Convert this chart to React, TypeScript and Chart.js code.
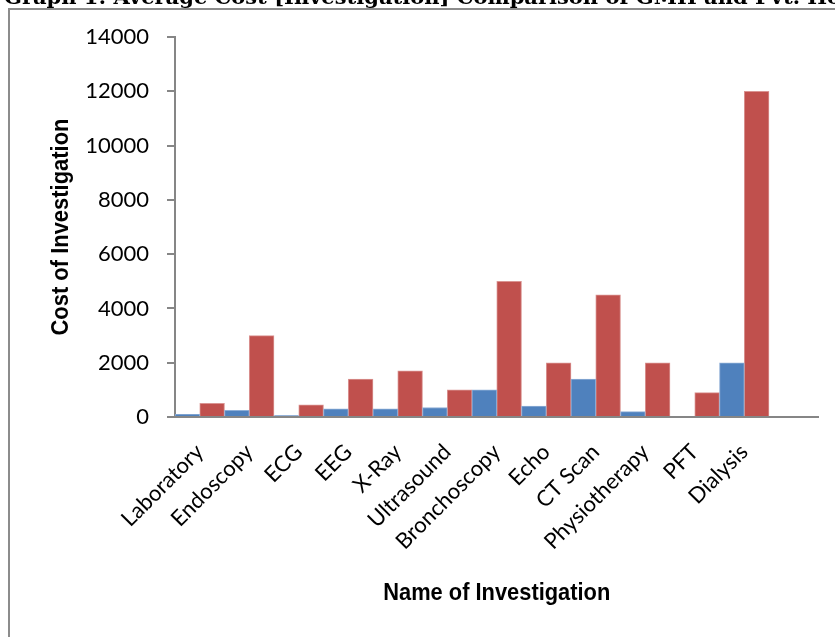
import React, { useEffect, useRef } from 'react';
import { Chart, registerables } from 'chart.js';

Chart.register(...registerables);

// ---- data ----
const categories = [
  'Laboratory', 'Endoscopy', 'ECG', 'EEG', 'X-Ray', 'Ultrasound',
  'Bronchoscopy', 'Echo', 'CT Scan', 'Physiotherapy', 'PFT', 'Dialysis',
];
const gmhCost = [100, 250, 50, 300, 300, 350, 1000, 400, 1400, 200, 0, 2000];
const pvtCost = [500, 3000, 450, 1400, 1700, 1000, 5000, 2000, 4500, 2000, 900, 12000];
// the source chart keeps one trailing empty category slot
const barSlots = [...categories, ''];
const yMin = 0;
const yMax = 14000;
const yStep = 2000;

const chartTitle = 'Graph 1: Average Cost [Investigation] Comparison of GMH and Pvt. Hospital';
const xTitle = 'Name of Investigation';
const yTitle = 'Cost of Investigation';

const W = 835;
const H = 637;

function drawCondensed(ctx: any, text: string, targetWidth: number) {
  const w = ctx.measureText(text).width;
  const k = Math.min(1, targetWidth / w);
  ctx.save();
  ctx.scale(k, 1);
  ctx.fillText(text, 0, 0);
  ctx.restore();
}

const decorPlugin = {
  id: 'decor',
  beforeDraw(chart: any) {
    const ctx = chart.ctx;
    ctx.save();
    ctx.fillStyle = '#ffffff';
    ctx.fillRect(0, 0, W, H);
    ctx.strokeStyle = '#8c8c8c';
    ctx.lineWidth = 2;
    ctx.beginPath();
    ctx.moveTo(9, H);
    ctx.lineTo(9, 9);
    ctx.lineTo(W, 9);
    ctx.stroke();
    // partially visible heading above the frame
    ctx.fillStyle = '#000';
    ctx.font = 'bold 21px "DejaVu Serif", serif';
    ctx.textBaseline = 'alphabetic';
    ctx.textAlign = 'left';
    ctx.fillText(chartTitle, 4, 4);
    ctx.restore();
  },
  afterDraw(chart: any) {
    const ctx = chart.ctx;
    const area = chart.chartArea;
    ctx.save();
    ctx.fillStyle = '#000';
    ctx.font = 'bold 24px "Liberation Sans", Arial, sans-serif';
    ctx.textAlign = 'center';
    ctx.textBaseline = 'middle';
    ctx.save();
    ctx.translate((area.left + area.right) / 2, 593);
    drawCondensed(ctx, xTitle, 227);
    ctx.restore();
    ctx.save();
    ctx.translate(61, (area.top + area.bottom) / 2);
    ctx.rotate(-Math.PI / 2);
    drawCondensed(ctx, yTitle, 217);
    ctx.restore();
    ctx.restore();
  },
};

export default function App() {
  const ref = useRef<HTMLCanvasElement | null>(null);

  useEffect(() => {
    if (!ref.current) return;
    const tickFont = { family: 'Lato', size: 22 };
    const chart = new Chart(ref.current, {
      type: 'bar',
      data: {
        labels: barSlots,
        datasets: [
          {
            label: 'GMH',
            data: gmhCost,
            backgroundColor: '#4F81BD',
            borderColor: '#8EAED6',
            borderWidth: 1,
          },
          {
            label: 'Pvt.',
            data: pvtCost,
            backgroundColor: '#C0504D',
            borderColor: '#DA9492',
            borderWidth: 1,
          },
        ],
      },
      options: {
        animation: false,
        responsive: false,
        layout: { padding: { left: 0, right: 15, top: 37, bottom: 0 } },
        plugins: {
          legend: { display: false },
          tooltip: { enabled: false },
          title: { display: false },
        },
        datasets: { bar: { categoryPercentage: 1, barPercentage: 1 } },
        scales: {
          x: {
            type: 'category',
            offset: true,
            grid: { display: false, drawTicks: false },
            border: { display: true, color: '#868686', width: 2 },
            ticks: {
              autoSkip: false,
              minRotation: 45,
              maxRotation: 45,
              padding: 22,
              color: '#000',
              font: tickFont,
            },
            afterFit: (s: any) => {
              s.height = 220;
            },
          },
          y: {
            min: yMin,
            max: yMax,
            ticks: {
              stepSize: yStep,
              padding: 18,
              color: '#000',
              font: tickFont,
              callback: (v: any) => String(v),
            },
            grid: {
              drawOnChartArea: false,
              drawTicks: true,
              tickLength: 8,
              color: '#868686',
              lineWidth: 2,
            },
            border: { color: '#868686', width: 2 },
            afterFit: (s: any) => {
              s.width = 175;
            },
          },
        },
      } as any,
      plugins: [decorPlugin],
    });
    return () => chart.destroy();
  }, []);

  return (
    <div style={{ position: 'absolute', left: 0, top: 0, width: W, height: H }}>
      <canvas ref={ref} width={W} height={H} style={{ width: W, height: H, display: 'block' }} />
    </div>
  );
}
